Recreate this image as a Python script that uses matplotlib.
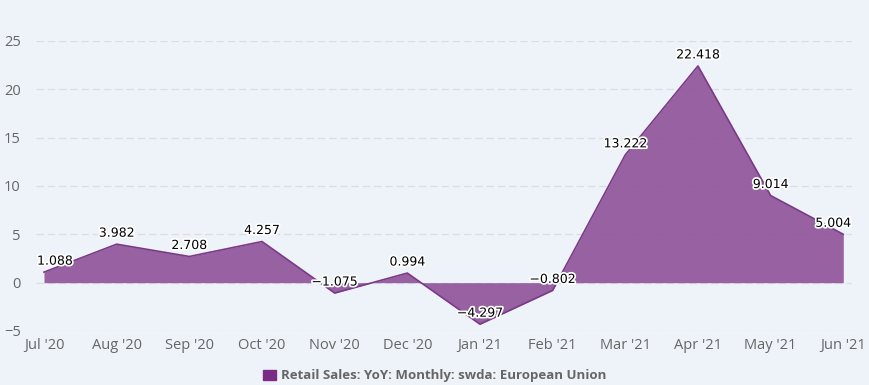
import matplotlib.pyplot as plt
import matplotlib.patheffects as pe
from matplotlib.patches import Patch

months = ["Jul '20", "Aug '20", "Sep '20", "Oct '20", "Nov '20", "Dec '20",
          "Jan '21", "Feb '21", "Mar '21", "Apr '21", "May '21", "Jun '21"]
values = [1.088, 3.982, 2.708, 4.257, -1.075, 0.994,
          -4.297, -0.802, 13.222, 22.418, 9.014, 5.004]
yticks = [-5, 0, 5, 10, 15, 20, 25]
series_name = "Retail Sales: YoY: Monthly: swda: European Union"

W, H = 869, 385
bg = "#eef3f9"
fig = plt.figure(figsize=(W / 100, H / 100), dpi=100, facecolor=bg)
# axes in pixel terms: left 36, right 852, y=-5 at 331, y=25 at 41
ax = fig.add_axes([36 / W, 1 - 331 / H, (852 - 36) / W, (331 - 41) / H])
ax.set_facecolor(bg)

x = list(range(len(values)))
ax.fill_between(x, values, 0, color="#8e5199", alpha=0.9, linewidth=0, zorder=2)
ax.plot(x, values, color="#7a3a87", linewidth=1.2, zorder=3)

ax.set_xlim(-0.11, 11.12)
ax.set_ylim(-5, 25)
ax.set_yticks(yticks)
ax.set_xticks(x)
ax.set_xticklabels(months)
for y in yticks:
    ax.axhline(y, color="#d9dee5", linestyle=(0, (6, 3)), linewidth=0.9, zorder=1)

for s in ax.spines.values():
    s.set_visible(False)
ax.tick_params(length=0, colors="#666666", labelsize=10.5)
ax.tick_params(axis="x", pad=5)
ax.tick_params(axis="y", pad=11)
for lbl in ax.get_xticklabels() + ax.get_yticklabels():
    lbl.set_fontfamily("Open Sans")

halo = [pe.withStroke(linewidth=2.5, foreground="white")]
for i, v in enumerate(values):
    dx, dy = 0, 11
    if i == 0:
        dx = 11
    if i == len(values) - 1:
        dx = -10
    ax.annotate(f"{v:.3f}".replace("-", "\u2212"), (i, v), xytext=(dx, dy),
                textcoords="offset pixels", ha="center", va="center",
                fontsize=9, color="black", family="DejaVu Sans",
                path_effects=halo, zorder=5, annotation_clip=False)

fig.legend(handles=[Patch(color="#7b2d86")], labels=[series_name],
           loc="center", bbox_to_anchor=(0.5, 1 - 376 / H), frameon=False,
           handlelength=1.0, handleheight=0.8, handletextpad=0.4,
           prop={"family": "Open Sans", "weight": "bold", "size": 9.5},
           labelcolor="#666666")

fig.savefig("out.png", dpi=100, facecolor=bg)
